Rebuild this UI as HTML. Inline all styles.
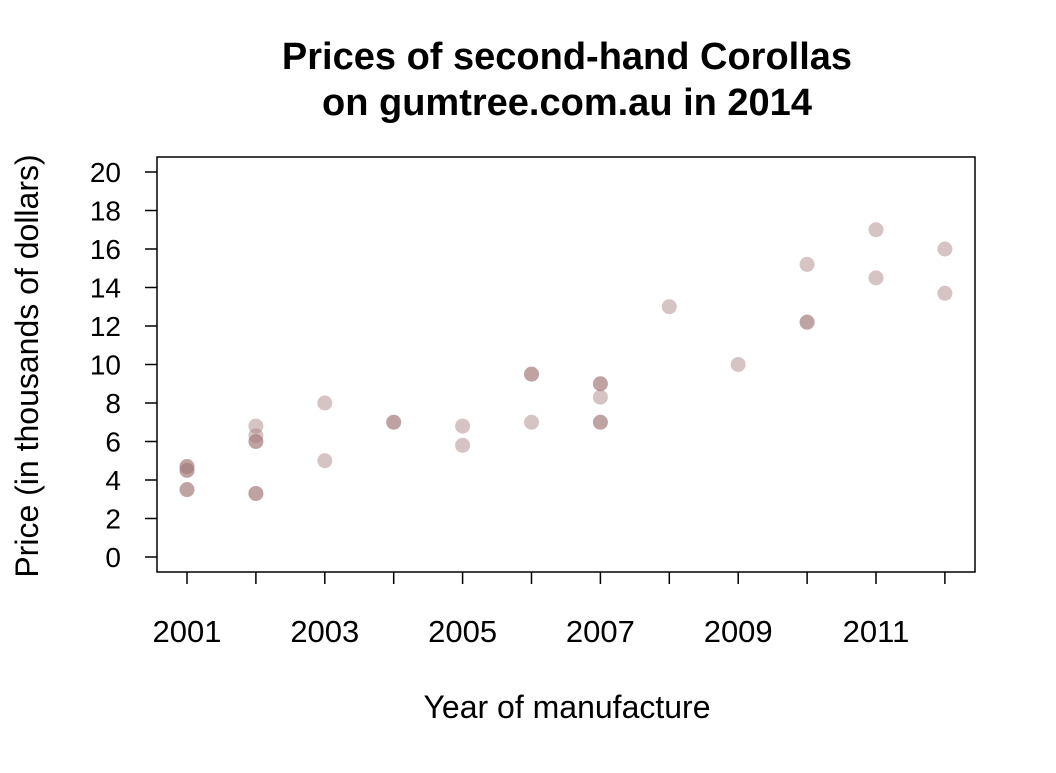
<!DOCTYPE html>
<html><head><meta charset="utf-8"><style>
body{margin:0;background:#fff;}
svg text{font-family:"Liberation Sans",Arial,sans-serif;fill:#000;}
</style></head><body>
<svg id="chart" width="1056" height="768">
<text x="567" y="69" text-anchor="middle" font-size="38" font-weight="bold">Prices of second-hand Corollas</text>
<text x="567" y="115" text-anchor="middle" font-size="38" font-weight="bold">on gumtree.com.au in 2014</text>
<rect x="157" y="157" width="818" height="415" fill="none" stroke="#000" stroke-width="1.5"/>
<text x="567" y="718" text-anchor="middle" font-size="32">Year of manufacture</text>
<text transform="translate(38,366) rotate(-90)" text-anchor="middle" font-size="32">Price (in thousands of dollars)</text>
<g id="yaxis"></g><g id="xaxis"></g><g id="points"></g>
</svg>
<script>
const years=[2001,2001,2001,2001,2001,2001,2002,2002,2002,2002,2002,2002,2003,2003,2004,2004,2005,2005,2006,2006,2006,2007,2007,2007,2007,2007,2008,2009,2010,2010,2010,2011,2011,2012,2012];
const prices=[4.7,4.5,4.5,3.5,3.5,4.7,6.8,6.3,6.0,6.0,3.3,3.3,8,5,7,7,6.8,5.8,9.5,9.5,7,9,9,8.3,7,7,13,10,15.2,12.2,12.2,17,14.5,16,13.7];
const yTicks=[0,2,4,6,8,10,12,14,16,18,20];
const xTicks=[2001,2002,2003,2004,2005,2006,2007,2008,2009,2010,2011,2012];
const xLabels=[2001,2003,2005,2007,2009,2011];
const NS="http://www.w3.org/2000/svg";
const sx=v=>187+(v-2001)*68.9;
const sy=v=>557-v*19.25;
function mk(t,a,p){const e=document.createElementNS(NS,t);for(const k in a)e.setAttribute(k,a[k]);p.appendChild(e);return e;}
const ya=document.getElementById('yaxis');
yTicks.forEach(v=>{
 const l=mk('line',{x1:145,x2:157,y1:sy(v),y2:sy(v),stroke:'#000','stroke-width':1.5},ya);
 
 
 const t=mk('text',{x:121,y:sy(v)+10,'text-anchor':'end','font-size':28},ya);
 t.textContent=v;
 
 
});
const xa=document.getElementById('xaxis');
xTicks.forEach(v=>{
 const l=mk('line',{x1:sx(v),x2:sx(v),y1:572,y2:584,stroke:'#000','stroke-width':1.5},xa);
 
 
});
xLabels.forEach(v=>{
 const t=mk('text',{x:sx(v),y:642,'text-anchor':'middle','font-size':31},xa);
 t.textContent=v;
 
 
});
const pg=document.getElementById('points');
years.forEach((y,i)=>{
 const c=mk('circle',{cx:sx(y),cy:sy(prices[i]),r:7.5,fill:'rgb(165,125,125)','fill-opacity':0.45},pg);
 
 
});
</script>
</body></html>
